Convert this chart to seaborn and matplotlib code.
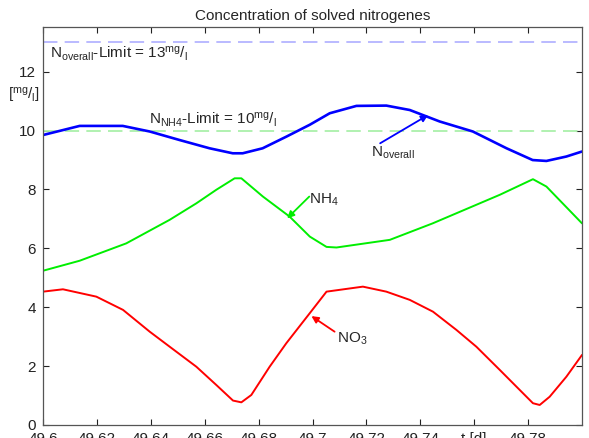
import matplotlib

matplotlib.use("Agg")
import matplotlib.pyplot as plt
import pandas as pd
import seaborn as sns

# time [d] and concentrations [mg/l]
t_overall = [49.600, 49.6136, 49.6296, 49.6396, 49.6507, 49.6618, 49.6704, 49.6741,
             49.6815, 49.6904, 49.6990, 49.7064, 49.7163, 49.7274, 49.7361, 49.7472,
             49.7595, 49.7720, 49.7817, 49.7868, 49.7942, 49.800]
n_overall = [9.85, 10.16, 10.16, 9.97, 9.68, 9.40, 9.23, 9.23,
             9.40, 9.80, 10.20, 10.59, 10.84, 10.85, 10.70, 10.31,
             9.97, 9.40, 9.00, 8.97, 9.12, 9.29]

t_nh4 = [49.600, 49.6136, 49.6309, 49.6470, 49.6569, 49.6643, 49.6711, 49.6736,
         49.6816, 49.6915, 49.6990, 49.7052, 49.7089, 49.7287, 49.7446, 49.7695,
         49.7818, 49.7868, 49.800]
nh4 = [5.24, 5.58, 6.17, 6.97, 7.53, 7.99, 8.38, 8.38,
       7.76, 7.08, 6.40, 6.05, 6.03, 6.29, 6.85, 7.82,
       8.35, 8.10, 6.85]

t_no3 = [49.600, 49.6074, 49.6198, 49.6297, 49.6396, 49.6470, 49.6569, 49.6643,
         49.6705, 49.6736, 49.6773, 49.6841, 49.6903, 49.6990, 49.7052, 49.7187,
         49.7274, 49.7361, 49.7447, 49.7534, 49.7608, 49.7695, 49.7757, 49.7818,
         49.7843, 49.7880, 49.7942, 49.800]
no3 = [4.53, 4.61, 4.36, 3.91, 3.17, 2.66, 1.98, 1.36,
       0.83, 0.77, 1.02, 1.98, 2.78, 3.80, 4.53, 4.70,
       4.53, 4.25, 3.85, 3.23, 2.66, 1.87, 1.30, 0.74,
       0.68, 0.96, 1.64, 2.38]

limit_overall = 13
limit_nh4 = 10

x_ticks = [49.6, 49.62, 49.64, 49.66, 49.68, 49.7, 49.72, 49.74, 49.76, 49.78]
x_tick_labels = ["49.6", "49.62", "49.64", "49.66", "49.68", "49.7", "49.72", "49.74", "t [d]", "49.78"]
y_ticks = [0, 2, 4, 6, 8, 10, 12]


def main() -> None:
    sns.set_theme(style="ticks")
    plt.rcParams["font.family"] = ["Liberation Sans", "DejaVu Sans"]
    plt.rcParams["mathtext.fontset"] = "custom"
    plt.rcParams["mathtext.rm"] = "Liberation Sans"
    plt.rcParams["mathtext.it"] = "Liberation Sans:italic"
    plt.rcParams["mathtext.bf"] = "Liberation Sans:bold"

    fig = plt.figure(figsize=(5.89, 4.38), dpi=100)
    ax = fig.add_axes([43 / 589, 13 / 438, 539 / 589, 398 / 438])

    ax.axhline(limit_overall, color="#b4b4ff", lw=1.3, dashes=(8, 4))
    ax.axhline(limit_nh4, color="#aaf0aa", lw=1.3, dashes=(8, 4))

    df_o = pd.DataFrame({"t": t_overall, "c": n_overall})
    df_n = pd.DataFrame({"t": t_nh4, "c": nh4})
    df_r = pd.DataFrame({"t": t_no3, "c": no3})
    sns.lineplot(data=df_o, x="t", y="c", color="#0000ff", lw=1.9, sort=False, ax=ax)
    sns.lineplot(data=df_n, x="t", y="c", color="#00ee00", lw=1.4, sort=False, ax=ax)
    sns.lineplot(data=df_r, x="t", y="c", color="#ff0000", lw=1.4, sort=False, ax=ax)

    ax.set_xlim(49.6, 49.8)
    ax.set_ylim(0, 13.52)
    ax.set_xticks(x_ticks)
    ax.set_xticklabels(x_tick_labels)
    ax.set_yticks(y_ticks)
    ax.set_xlabel("")
    ax.set_ylabel("")
    ax.tick_params(direction="in", length=4, width=0.8, top=True, right=True,
                   labelsize=11, pad=5, colors="#222222")
    for s in ax.spines.values():
        s.set_color("#555555")
        s.set_linewidth(0.9)

    ax.set_title("Concentration of solved nitrogenes", fontsize=11, pad=5)

    fs = 11
    ax.text(49.6025, 12.46, r"N$_{\rm overall}$-Limit = 13$^{\rm mg}/_{\rm l}$", fontsize=fs)
    ax.text(49.6393, 10.23, r"N$_{\rm NH4}$-Limit = 10$^{\rm mg}/_{\rm l}$", fontsize=fs)
    ax.text(-0.005, 11.2, r"[$^{\rm mg}/_{\rm l}$]", fontsize=fs, ha="right", va="center",
            transform=ax.get_yaxis_transform())

    ax.text(49.7218, 9.12, r"N$_{\rm overall}$", fontsize=fs)
    ax.text(49.6987, 7.53, r"NH$_4$", fontsize=fs)
    ax.text(49.7091, 2.80, r"NO$_3$", fontsize=fs)

    arrow = dict(arrowstyle="-|>", lw=1.3, mutation_scale=10, shrinkA=0, shrinkB=0)
    ax.annotate("", xy=(49.7429, 10.53), xytext=(49.7251, 9.57),
                arrowprops=dict(arrow, color="#0000ff"))
    ax.annotate("", xy=(49.6906, 7.02), xytext=(49.6988, 7.76),
                arrowprops=dict(arrow, color="#00ee00"))
    ax.annotate("", xy=(49.6996, 3.70), xytext=(49.7082, 3.17),
                arrowprops=dict(arrow, color="#ff0000"))

    fig.savefig("out.png", dpi=100)
    plt.close(fig)


if __name__ == "__main__":
    main()
